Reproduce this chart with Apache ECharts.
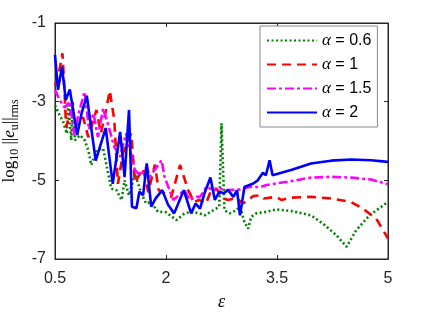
<!DOCTYPE html>
<html><head><meta charset="utf-8">
<script src="https://cdn.jsdelivr.net/npm/echarts@6/dist/echarts.min.js"></script>
<style>html,body{margin:0;padding:0;background:#fff}#c{width:428px;height:314px}</style>
</head><body><div id="c"></div>
<script>
const xTicks = [0.5, 2, 3.5, 5];
const yTicks = [-7, -5, -3, -1];
const seriesNames = ['0.6', '1', '1.5', '2'];

const alpha06 = [[0.5,-3.09],[0.55,-3.3],[0.61,-3.51],[0.66,-3.81],[0.68,-3.09],[0.72,-3.98],[0.74,-3.0],[0.77,-3.98],[0.84,-3.85],[0.90,-3.98],[0.95,-4.23],[0.99,-4.61],[1.07,-4.23],[1.15,-4.19],[1.26,-5.21],[1.33,-5.25],[1.40,-5.50],[1.44,-5.0],[1.50,-5.38],[1.58,-4.83],[1.66,-5.3],[1.73,-5.59],[1.80,-5.55],[1.89,-5.80],[2.0,-5.81],[2.14,-6.01],[2.25,-5.84],[2.34,-5.80],[2.45,-5.84],[2.52,-5.89],[2.64,-5.76],[2.72,-5.67],[2.75,-3.55],[2.79,-5.76],[2.86,-5.84],[2.95,-5.76],[3.0,-5.67],[3.06,-6.06],[3.11,-6.23],[3.15,-5.93],[3.22,-5.84],[3.36,-5.80],[3.49,-5.74],[3.69,-5.78],[3.96,-5.89],[4.12,-6.10],[4.30,-6.39],[4.44,-6.69],[4.57,-6.27],[4.75,-5.89],[5.0,-5.55]];
const alpha1 = [[0.5,-2.6],[0.56,-2.2],[0.60,-1.77],[0.62,-2.4],[0.65,-3.64],[0.72,-3.2],[0.80,-3.6],[0.88,-3.4],[0.95,-3.9],[1.06,-3.21],[1.12,-3.8],[1.18,-3.3],[1.24,-2.72],[1.30,-3.45],[1.35,-5.09],[1.42,-4.3],[1.48,-4.0],[1.53,-3.81],[1.58,-5.05],[1.69,-4.70],[1.76,-5.3],[1.85,-4.60],[1.90,-5.25],[2.07,-5.42],[2.19,-4.61],[2.30,-5.25],[2.38,-5.55],[2.45,-5.50],[2.54,-5.59],[2.61,-5.25],[2.68,-5.21],[2.77,-5.46],[2.84,-5.50],[2.95,-5.45],[3.04,-5.59],[3.11,-5.50],[3.18,-5.40],[3.27,-5.38],[3.32,-5.46],[3.49,-5.42],[3.56,-5.50],[3.69,-5.44],[3.96,-5.42],[4.23,-5.46],[4.50,-5.55],[4.66,-5.72],[4.84,-5.97],[4.96,-6.35],[5.0,-6.48]];
const alpha15 = [[0.5,-2.70],[0.56,-2.95],[0.63,-3.15],[0.70,-3.0],[0.76,-3.85],[0.82,-3.3],[0.90,-2.75],[0.96,-3.7],[1.02,-3.3],[1.08,-3.9],[1.15,-3.17],[1.22,-3.6],[1.30,-4.15],[1.38,-4.4],[1.46,-3.81],[1.58,-4.74],[1.65,-4.87],[1.74,-4.66],[1.78,-4.91],[1.94,-4.49],[1.98,-4.91],[2.03,-5.16],[2.10,-5.50],[2.25,-5.25],[2.32,-5.50],[2.41,-5.42],[2.46,-5.42],[2.55,-5.16],[2.64,-5.25],[2.73,-5.21],[2.82,-5.25],[3.0,-5.23],[3.13,-5.17],[3.27,-5.17],[3.36,-5.12],[3.49,-5.08],[3.69,-5.02],[3.96,-4.93],[4.23,-4.91],[4.50,-4.93],[4.77,-4.98],[5.0,-5.10]];
const alpha2 = [[0.5,-1.81],[0.54,-2.70],[0.595,-2.11],[0.645,-2.96],[0.70,-2.69],[0.80,-3.85],[0.86,-3.29],[0.93,-2.85],[1.05,-4.50],[1.185,-3.67],[1.28,-5.09],[1.38,-3.77],[1.44,-4.92],[1.50,-3.21],[1.54,-5.67],[1.60,-5.71],[1.64,-5.29],[1.69,-5.38],[1.74,-4.57],[1.80,-5.67],[1.86,-5.46],[1.95,-5.25],[2.03,-5.63],[2.11,-5.84],[2.24,-5.25],[2.34,-5.84],[2.40,-5.59],[2.46,-5.72],[2.52,-5.33],[2.60,-4.93],[2.66,-5.50],[2.72,-5.29],[2.78,-5.33],[2.84,-5.25],[2.91,-5.42],[2.96,-5.25],[3.0,-5.89],[3.06,-5.17],[3.18,-5.08],[3.24,-5.0],[3.31,-4.81],[3.35,-4.87],[3.40,-4.49],[3.44,-4.87],[3.69,-4.74],[3.96,-4.57],[4.23,-4.50],[4.50,-4.47],[4.77,-4.49],[5.0,-4.53]];

const axisColor = '#262626';
const font = 'Liberation Sans, Arial, sans-serif';
const serif = 'Liberation Serif, DejaVu Serif, serif';

function mkSeries(name, data, color, type, width) {
  return {
    name: name, type: 'line', data: data, symbol: 'none', showSymbol: false,
    lineStyle: {color: color, width: width, type: type},
    itemStyle: {color: color},
    animation: false, z: 3
  };
}

const chart = echarts.init(document.getElementById('c'), null, {renderer: 'canvas'});
chart.setOption({
  animation: false,
  grid: {left: 55, right: 40, top: 23, bottom: 55, containLabel: false, outerBoundsMode: 'none',
    show: true, borderColor: axisColor, borderWidth: 1, backgroundColor: 'transparent'},
  legend: {
    left: 260, top: 26, orient: 'vertical',
    padding: [6, 6, 6, 6], itemGap: 7, itemWidth: 50, itemHeight: 14,
    backgroundColor: '#fff', borderColor: '#888', borderWidth: 1,
    data: seriesNames,
    itemStyle: {opacity: 0},
    formatter: function (n) { return '{a|α} = ' + n; },
    textStyle: {fontSize: 16, color: '#000', fontFamily: font, lineHeight: 16,
      rich: {a: {fontFamily: serif, fontStyle: 'italic', fontSize: 17, color: '#000'}}}
  },
  xAxis: [{
    type: 'value', min: 0.5, max: 5, position: 'bottom',
    name: '{e|ε}', nameLocation: 'middle', nameGap: 34,
    nameTextStyle: {rich: {e: {fontFamily: serif, fontStyle: 'italic', fontSize: 18, color: '#000'}}},
    axisLine: {show: true, lineStyle: {color: axisColor}},
    axisTick: {show: true, inside: true, length: 4, customValues: xTicks, lineStyle: {color: axisColor}},
    axisLabel: {customValues: xTicks, fontSize: 16, color: axisColor, fontFamily: font, margin: 12, formatter: function (v) { return String(v); }},
    splitLine: {show: false}
  }, {
    type: 'value', min: 0.5, max: 5, position: 'top',
    axisLine: {show: true, lineStyle: {color: axisColor}},
    axisTick: {show: true, inside: true, length: 4, customValues: xTicks, lineStyle: {color: axisColor}},
    axisLabel: {show: false}, splitLine: {show: false}
  }],
  yAxis: [{
    type: 'value', min: -7, max: -1, position: 'left',
    name: '{t|log}{s|10}{t| ||}{i|e}{s|u}{t|||}{s|rms}', nameLocation: 'middle', nameGap: 32,
    nameTextStyle: {rich: {
      t: {fontFamily: serif, fontSize: 17, color: '#000'},
      i: {fontFamily: serif, fontStyle: 'italic', fontSize: 17, color: '#000'},
      s: {fontFamily: serif, fontSize: 12, color: '#000', verticalAlign: 'bottom', padding: [10, 0, 0, 0]}
    }},
    axisLine: {show: true, lineStyle: {color: axisColor}},
    axisTick: {show: true, inside: true, length: 4, customValues: yTicks, lineStyle: {color: axisColor}},
    axisLabel: {customValues: yTicks, fontSize: 16, color: axisColor, fontFamily: font, margin: 9},
    splitLine: {show: false}
  }, {
    type: 'value', min: -7, max: -1, position: 'right',
    axisLine: {show: true, lineStyle: {color: axisColor}},
    axisTick: {show: true, inside: true, length: 4, customValues: yTicks, lineStyle: {color: axisColor}},
    axisLabel: {show: false}, splitLine: {show: false}
  }],
  series: [
    mkSeries('0.6', alpha06, '#008000', [2, 2.5], 2.6),
    mkSeries('1', alpha1, '#ff0000', [9, 6], 2.6),
    mkSeries('1.5', alpha15, '#ff00ff', [9, 3, 3, 3], 2.6),
    mkSeries('2', alpha2, '#0000ff', 'solid', 2.6)
  ]
});
</script></body></html>
